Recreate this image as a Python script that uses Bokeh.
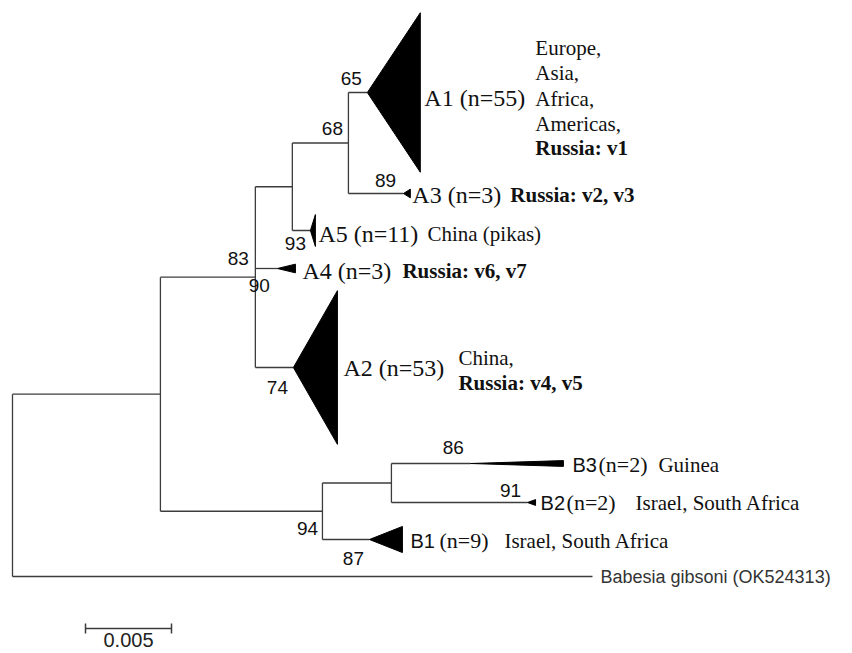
from bokeh.plotting import figure
from bokeh.models import Range1d
from bokeh.embed import file_html
from bokeh.resources import INLINE
from bokeh.core.properties import value

# ---------------- data ----------------
# internal nodes (parent listed before child), branch lengths in substitutions/site
node_names = ["root", "U", "A", "A68", "A65", "B", "B86"]
node_parents = [None, "root", "U", "A", "A68", "U", "B"]
node_lengths = [0.0, 0.00860, 0.00552, 0.00215, 0.00326, 0.00942, 0.00401]

# collapsed clades
clade_names = ["A1", "A3", "A5", "A4", "A2", "B3", "B2", "B1"]
clade_n = [55, 3, 11, 3, 53, 2, 2, 9]
clade_parent = ["A65", "A65", "A68", "A", "A", "B86", "B86", "B"]
clade_stem = [0.00110, 0.00320, 0.00105, 0.00128, 0.00221, 0.00459, 0.00791, 0.00273]
clade_depth = [0.00308, 0.00040, 0.00029, 0.00105, 0.00256, 0.00541, 0.00047, 0.00192]
clade_origin = [
    [("Europe,", "normal"), ("Asia,", "normal"), ("Africa,", "normal"),
     ("Americas,", "normal"), ("Russia: v1", "bold")],
    [("Russia: v2, v3", "bold")],
    [("China (pikas)", "normal")],
    [("Russia: v6, v7", "bold")],
    [("China,", "normal"), ("Russia: v4, v5", "bold")],
    [("Guinea", "normal")],
    [("Israel, South Africa", "normal")],
    [("Israel, South Africa", "normal")],
]

# outgroup
outgroup_name = "Babesia gibsoni (OK524313)"
outgroup_length = 0.03372

# bootstrap support values and the node/clade each belongs to
support_values = ["65", "68", "89", "93", "83", "90", "74", "86", "91", "94", "87"]
support_anchor = ["A1", "A65", "A3", "A5", "A", "A", "A2", "B3", "B2", "B", "B1"]

scale_length = 0.005
scale_label = "0.005"

# ---------------- layout (screen pixels) ----------------
tip_rows = {"A1": 92, "A3": 193, "A5": 230, "A4": 268, "A2": 367,
            "B3": 463, "B2": 502, "B1": 539, "OUT": 576}
px_per_seq = 2.9
label_dx = {"A1": 4, "A3": 2, "A5": 3, "A4": 7, "A2": 6, "B3": 9, "B2": 5, "B1": 8}
label_dy = {"A1": 5, "A3": 1, "A5": 3, "A4": 2, "A2": 0, "B3": 1, "B2": 0, "B1": 1}
n_dx = {"B3": 26, "B2": 26, "B1": 29}
origin_dx = {"A1": 115, "A3": 100, "A5": 112, "A4": 107, "A2": 121, "B3": 95, "B2": 100, "B1": 102}
origin_dy = {"A1": [-45, -20, 6, 31, 55], "A2": [-10, 15]}
support_off = {"65": (-16, -14), "68": (-16, -15), "89": (-18, -13), "93": (-15, 13),
               "83": (-17, -19), "90": (4, 8), "74": (-16, 20), "86": (-17, -16),
               "91": (-17, -12), "94": (-15, 17), "87": (-16, 19)}
PX = 17200.0  # pixels per unit of distance
W, H = 852, 653
root_px = 12

SERIF = value("Liberation Serif")
SANS = value("Liberation Sans")
LINE = "#3c3c3c"

# ---------------- compute tree geometry ----------------
xpos = {}
for nm, par, bl in zip(node_names, node_parents, node_lengths):
    xpos[nm] = (xpos[par] if par else 0.0) + bl

children = {nm: [] for nm in node_names}
for nm, par in zip(node_names, node_parents):
    if par:
        children[par].append(nm)
for nm, par in zip(clade_names, clade_parent):
    children[par].append(nm)
children["root"].append("OUT")

apex = {}
for nm, par, st in zip(clade_names, clade_parent, clade_stem):
    apex[nm] = xpos[par] + st
apex["OUT"] = outgroup_length

ypos = dict(tip_rows)


def node_y(nm):
    if nm in ypos:
        return ypos[nm]
    ys = [node_y(c) for c in children[nm]]
    ypos[nm] = (min(ys) + max(ys)) / 2.0
    return ypos[nm]


node_y("root")

hx0, hx1, hy = [], [], []
vx, vy0, vy1 = [], [], []
for nm in node_names:
    cys = [ypos[c] for c in children[nm]]
    vx.append(xpos[nm]); vy0.append(min(cys)); vy1.append(max(cys))
    for c in children[nm]:
        hx0.append(xpos[nm])
        hx1.append(xpos[c] if c in xpos else apex[c])
        hy.append(ypos[c])

p = figure(width=W, height=H, output_backend="svg", toolbar_location=None,
           x_range=Range1d(-root_px / PX, (W - root_px) / PX),
           y_range=Range1d(H, 0), min_border=0)
p.axis.visible = False
p.grid.visible = False
p.outline_line_color = None
p.background_fill_color = "white"

p.segment(hx0, hy, hx1, hy, line_color=LINE, line_width=1.3)
p.segment(vx, vy0, vx, vy1, line_color=LINE, line_width=1.3)

# wedges for collapsed clades
wx, wy = [], []
for nm, n, d in zip(clade_names, clade_n, clade_depth):
    h = n * px_per_seq / 2.0
    a = apex[nm]
    y = ypos[nm]
    wx.append([a, a + d, a + d])
    wy.append([y, y - h, y + h])
p.patches(wx, wy, fill_color="black", line_color="black", line_width=1)

# clade labels
for nm, n, d, orig in zip(clade_names, clade_n, clade_depth, clade_origin):
    right = apex[nm] + d
    y = ypos[nm]
    if nm.startswith("B"):
        p.text([right], [y + label_dy[nm]], text=[nm], x_offset=label_dx[nm],
               text_font=SANS, text_font_size="20px", text_baseline="middle",
               text_color="#111")
        p.text([right], [y + label_dy[nm]], text=["(n=%d)" % n], x_offset=label_dx[nm] + n_dx[nm],
               text_font=SERIF, text_font_size="22px", text_baseline="middle",
               text_color="#111")
    else:
        p.text([right], [y + label_dy[nm]], text=["%s (n=%d)" % (nm, n)], x_offset=label_dx[nm],
               text_font=SERIF, text_font_size="24px", text_baseline="middle",
               text_color="#111")
    dys = origin_dy.get(nm, [label_dy[nm]])
    for (t, style), dy in zip(orig, dys):
        p.text([right], [y + dy], text=[t], x_offset=origin_dx[nm],
               text_font=SERIF, text_font_size="21px", text_font_style=style,
               text_baseline="middle", text_color="#111")

# outgroup label
p.text([outgroup_length], [ypos["OUT"]], text=[outgroup_name], x_offset=8,
       text_font=SANS, text_font_size="18px", text_baseline="middle", text_color="#333")

# bootstrap values
sx, sy, sxo, syo = [], [], [], []
for v, a in zip(support_values, support_anchor):
    ax_ = apex[a] if a in apex else xpos[a]
    sx.append(ax_); sy.append(ypos[a])
    sxo.append(support_off[v][0]); syo.append(support_off[v][1])
p.text(sx, sy, text=support_values, x_offset=sxo, y_offset=syo, text_align="center",
       text_baseline="middle", text_font=SANS, text_font_size="19px", text_color="#111")

# scale bar
sb0 = (85 - 12) / PX
sb_y = 628
p.segment([sb0], [sb_y], [sb0 + scale_length], [sb_y], line_color=LINE, line_width=1.5)
p.segment([sb0, sb0 + scale_length], [sb_y - 5, sb_y - 5], [sb0, sb0 + scale_length],
          [sb_y + 5, sb_y + 5], line_color=LINE, line_width=1.5)
p.text([sb0 + scale_length / 2], [sb_y + 4], text=[scale_label], text_align="center",
       text_baseline="top", text_font=SANS, text_font_size="20px", text_color="#222")

open("out.html", "w").write(file_html(p, INLINE))
